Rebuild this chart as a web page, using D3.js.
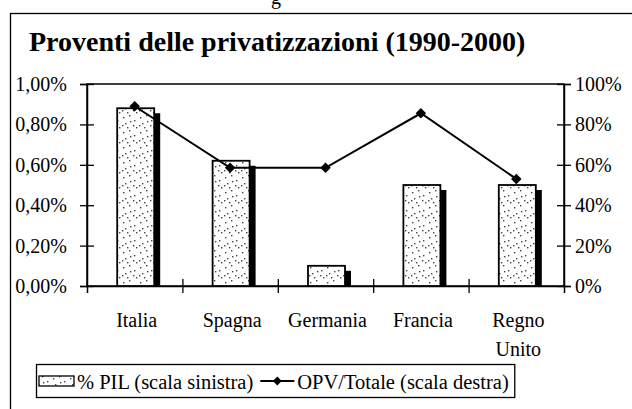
<!DOCTYPE html>
<html>
<head>
<meta charset="utf-8">
<script src="https://cdn.jsdelivr.net/npm/d3@7"></script>
<style>
  body { margin: 0; background: #fff; }
  text { font-family: "Liberation Serif", "Times New Roman", serif; fill: #000; }
</style>
</head>
<body>
<div id="chart"></div>
<script>
// dati
const countries = ["Italia", "Spagna", "Germania", "Francia", "Regno Unito"];
const pilShare = [0.88, 0.62, 0.10, 0.50, 0.50];      // % PIL (scala sinistra)
const opvShare = [0.89, 0.585, 0.585, 0.855, 0.53];  // OPV/Totale (scala destra)
const leftTicks = [0, 0.2, 0.4, 0.6, 0.8, 1.0];
const rightTicks = [0, 0.2, 0.4, 0.6, 0.8, 1.0];

const W = 632, H = 409;
const margin = { top: 84, right: 68, bottom: 123, left: 87 };
const width = W - margin.left - margin.right;
const height = H - margin.top - margin.bottom;

const root = d3.select("#chart")
  .append("svg")
  .attr("width", W)
  .attr("height", H);

// texture puntinata delle barre
const defs = root.append("defs");
const pat = defs.append("pattern")
  .attr("id", "stipple")
  .attr("patternUnits", "userSpaceOnUse")
  .attr("width", 17).attr("height", 15);
pat.append("rect").attr("width", 17).attr("height", 15).attr("fill", "#fff");
[[2, 3], [8, 1], [13, 6], [4, 9], [15, 13], [9, 7], [6, 13], [12, 11], [1, 11]].forEach(p => {
  pat.append("rect").attr("x", p[0]).attr("y", p[1])
    .attr("width", 1.4).attr("height", 1.4).attr("fill", "#444");
});

// cornice esterna
root.append("rect")
  .attr("x", 10.5).attr("y", 13.5)
  .attr("width", 660).attr("height", 420)
  .attr("fill", "none").attr("stroke", "#000").attr("stroke-width", 1.3);

// frammento di testo in alto (scansione)
root.append("text")
  .attr("x", 271).attr("y", 4)
  .style("font-size", "20px")
  .text("g");

root.append("text")
  .attr("x", 29).attr("y", 51)
  .style("font-size", "28px")
  .style("font-weight", "bold")
  .text("Proventi delle privatizzazioni (1990-2000)");

const svg = root.append("g")
  .attr("transform", `translate(${margin.left},${margin.top})`);

const x = d3.scaleBand()
  .domain(countries)
  .range([0, width]);
const xEdge = d3.scaleLinear()
  .domain([0, countries.length])
  .range([0, width]);
const yL = d3.scaleLinear().domain([0, 1.0]).range([height, 0]);
const yR = d3.scaleLinear().domain([0, 1.0]).range([height, 0]);

const fmtL = d => d3.format(".2f")(d).replace(".", ",") + "%";
const fmtR = d3.format(".0%");

// bordo area del grafico
svg.append("rect")
  .attr("width", width).attr("height", height)
  .attr("fill", "none").attr("stroke", "#000").attr("stroke-width", 1.5);

// asse sinistro
const gL = svg.append("g")
  .call(d3.axisLeft(yL).tickValues(leftTicks).tickFormat(fmtL).tickSize(7).tickPadding(13));
gL.selectAll(".tick line").attr("x1", 7);
// asse destro
const gR = svg.append("g")
  .attr("transform", `translate(${width},0)`)
  .call(d3.axisRight(yR).tickValues(rightTicks).tickFormat(fmtR).tickSize(7).tickPadding(4));
gR.selectAll(".tick line").attr("x1", -7);
// asse x con tacche tra le categorie
const gX = svg.append("g")
  .attr("transform", `translate(0,${height})`)
  .call(d3.axisBottom(xEdge).tickValues([1, 2, 3, 4]).tickFormat("").tickSize(7));
gX.selectAll(".tick line").attr("y1", -7);

[gL, gR, gX].forEach(g => {
  g.select(".domain").attr("stroke", "#000").attr("stroke-width", 1.5);
  g.selectAll(".tick line").attr("stroke", "#000").attr("stroke-width", 1.3);
  g.selectAll(".tick text").style("font-size", "20px").style("font-family", "Liberation Serif");
});

// barre: ombra + rettangolo puntinato
const barW = 37;
const bars = svg.selectAll(".bar")
  .data(countries.map((c, i) => ({ c, v: pilShare[i] })))
  .enter().append("g")
  .attr("class", "bar");
bars.append("rect")
  .attr("x", d => x(d.c) + x.bandwidth() / 2 - barW / 2 + 1 + barW)
  .attr("y", d => yL(d.v) + 5)
  .attr("width", 6)
  .attr("height", d => height - yL(d.v) - 5)
  .attr("fill", "#000");
bars.append("rect")
  .attr("x", d => x(d.c) + x.bandwidth() / 2 - barW / 2 + 1)
  .attr("y", d => yL(d.v))
  .attr("width", barW)
  .attr("height", d => height - yL(d.v))
  .attr("fill", "url(#stipple)")
  .attr("stroke", "#000")
  .attr("stroke-width", 1.8);

// linea OPV/Totale
const line = d3.line()
  .x((d, i) => x(countries[i]) + x.bandwidth() / 2)
  .y(d => yR(d));
svg.append("path")
  .datum(opvShare)
  .attr("d", line)
  .attr("fill", "none")
  .attr("stroke", "#000")
  .attr("stroke-width", 2);
svg.selectAll(".pt")
  .data(opvShare)
  .enter().append("path")
  .attr("class", "pt")
  .attr("d", d3.symbol().type(d3.symbolSquare).size(55))
  .attr("transform", (d, i) => `translate(${x(countries[i]) + x.bandwidth() / 2},${yR(d)}) rotate(45)`)
  .attr("fill", "#000");

// etichette categorie
svg.selectAll(".cat")
  .data(countries)
  .enter().append("text")
  .attr("class", "cat")
  .attr("y", height + 41)
  .style("text-anchor", "middle")
  .style("font-size", "20px")
  .each(function(d) {
    const parts = d.split(" ");
    d3.select(this).selectAll("tspan")
      .data(parts)
      .enter().append("tspan")
      .attr("x", x(d) + x.bandwidth() / 2 + 2)
      .attr("dy", (p, j) => j === 0 ? 0 : 29)
      .text(p => p);
  });

// legenda
const leg = root.append("g");
const box = leg.append("rect")
  .attr("x", 36.5).attr("y", 364.5)
  .attr("height", 33)
  .attr("fill", "#fff").attr("stroke", "#000").attr("stroke-width", 1.3);
leg.append("rect")
  .attr("x", 39).attr("y", 376)
  .attr("width", 35).attr("height", 10)
  .attr("fill", "url(#stipple)").attr("stroke", "#000").attr("stroke-width", 1.3);
const t1 = leg.append("text")
  .attr("x", 77).attr("y", 389)
  .style("font-size", "20.5px")
  .text("% PIL (scala sinistra)");
const x1 = 77 + t1.node().getComputedTextLength() + 7;
leg.append("line")
  .attr("x1", x1).attr("x2", x1 + 34)
  .attr("y1", 381).attr("y2", 381)
  .attr("stroke", "#000").attr("stroke-width", 2);
leg.append("path")
  .attr("d", d3.symbol().type(d3.symbolSquare).size(40))
  .attr("transform", `translate(${x1 + 17},381) rotate(45)`);
const t2 = leg.append("text")
  .attr("x", x1 + 37).attr("y", 389)
  .style("font-size", "20.5px")
  .text("OPV/Totale (scala destra)");
box.attr("width", x1 + 37 + t2.node().getComputedTextLength() + 6 - 36.5);
</script>
</body>
</html>
